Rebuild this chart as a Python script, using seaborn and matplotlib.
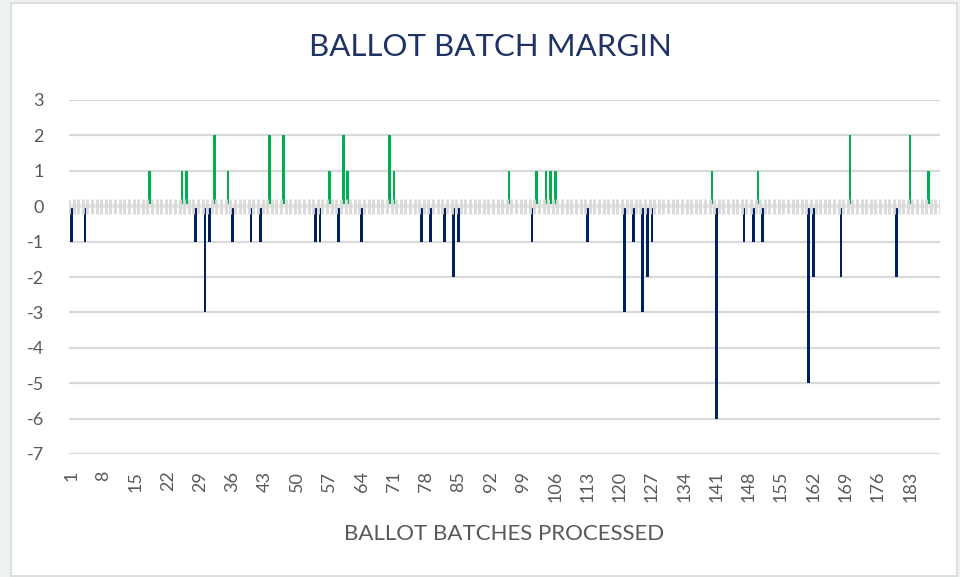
import numpy as np
import pandas as pd
import seaborn as sns
import matplotlib.pyplot as plt
from matplotlib.patches import Rectangle

sns.set_style('white')
plt.rcParams['font.family'] = ['Lato', 'DejaVu Sans']

# margin per ballot batch (batches 1..189)
margin = [
    -1, 0, 0, -1, 0, 0, 0, 0, 0, 0,
    0, 0, 0, 0, 0, 0, 0, 1, 0, 0,
    0, 0, 0, 0, 1, 1, 0, -1, 0, -3,
    -1, 2, 0, 0, 1, -1, 0, 0, 0, -1,
    0, -1, 0, 2, 0, 0, 2, 0, 0, 0,
    0, 0, 0, -1, -1, 0, 1, 0, -1, 2,
    1, 0, 0, -1, 0, 0, 0, 0, 0, 2,
    1, 0, 0, 0, 0, 0, -1, 0, -1, 0,
    0, -1, 0, -2, -1, 0, 0, 0, 0, 0,
    0, 0, 0, 0, 0, 1, 0, 0, 0, 0,
    -1, 1, 0, 1, 1, 1, 0, 0, 0, 0,
    0, 0, -1, 0, 0, 0, 0, 0, 0, 0,
    -3, 0, -1, 0, -3, -2, -1, 0, 0, 0,
    0, 0, 0, 0, 0, 0, 0, 0, 0, 1,
    -6, 0, 0, 0, 0, 0, -1, 0, -1, 1,
    -1, 0, 0, 0, 0, 0, 0, 0, 0, 0,
    -5, -2, 0, 0, 0, 0, 0, -2, 0, 2,
    0, 0, 0, 0, 0, 0, 0, 0, 0, -2,
    0, 0, 2, 0, 0, 0, 1, 0, 0,
]
batches = [str(i + 1) for i in range(len(margin))]
yticks = [3, 2, 1, 0, -1, -2, -3, -4, -5, -6, -7]

df = pd.DataFrame({'batch': batches, 'margin': margin})
df['side'] = np.where(df['margin'] > 0, 'pos', 'neg')

green = '#00b050'
navy = '#002060'
grid_col = '#d9d9d9'
text_col = '#595959'

fig = plt.figure(figsize=(9.6, 5.77), dpi=100)
fig.patch.set_facecolor('#eef1f1')
# white chart area with thin border
fig.patches.append(Rectangle((11 / 960, 1 / 577), 946 / 960, 573 / 577,
                             transform=fig.transFigure, facecolor='white',
                             edgecolor='#d9d9d9', linewidth=1.2, zorder=-5))

ax = fig.add_axes([69 / 960, 1 - 454 / 577, 871 / 960, 354 / 577])
ax.set_facecolor('none')

sns.barplot(data=df, x='batch', y='margin', hue='side', order=batches,
            palette={'pos': green, 'neg': navy}, dodge=False, width=0.58,
            legend=False, saturation=1, linewidth=0, ax=ax, zorder=2)

n = len(batches)
ax.set_xlim(-0.5, n - 0.5)
ax.set_ylim(-7, 3)
ax.set_yticks(yticks)
ax.set_yticklabels([str(v) for v in yticks])
ax.yaxis.grid(True, color=grid_col, linewidth=1.6, zorder=0)
ax.set_axisbelow(True)

# zero axis with cross tick marks between batches
ax.axhline(0, color='#e6e6e6', linewidth=3, zorder=3)
bounds = np.arange(n + 1) - 0.5
ax.vlines(bounds, -0.21, 0.21, color=grid_col, linewidth=2.0, zorder=4)

xt = list(range(0, n, 7))
ax.set_xticks(xt)
ax.set_xticklabels([batches[i] for i in xt], rotation=90)
ax.tick_params(axis='x', length=0, pad=12, labelsize=13, labelcolor=text_col)
ax.tick_params(axis='y', length=0, pad=18, labelsize=13, labelcolor=text_col)

for s in ax.spines.values():
    s.set_visible(False)

ax.set_xlabel('BALLOT BATCHES PROCESSED', fontsize=16, color=text_col, labelpad=16)
ax.set_ylabel('')
fig.text(490 / 960, 1 - 47 / 577, 'BALLOT BATCH MARGIN', ha='center', va='center',
         fontsize=22.5, color='#1f3464')

fig.savefig('out.png', dpi=100, facecolor=fig.get_facecolor())
